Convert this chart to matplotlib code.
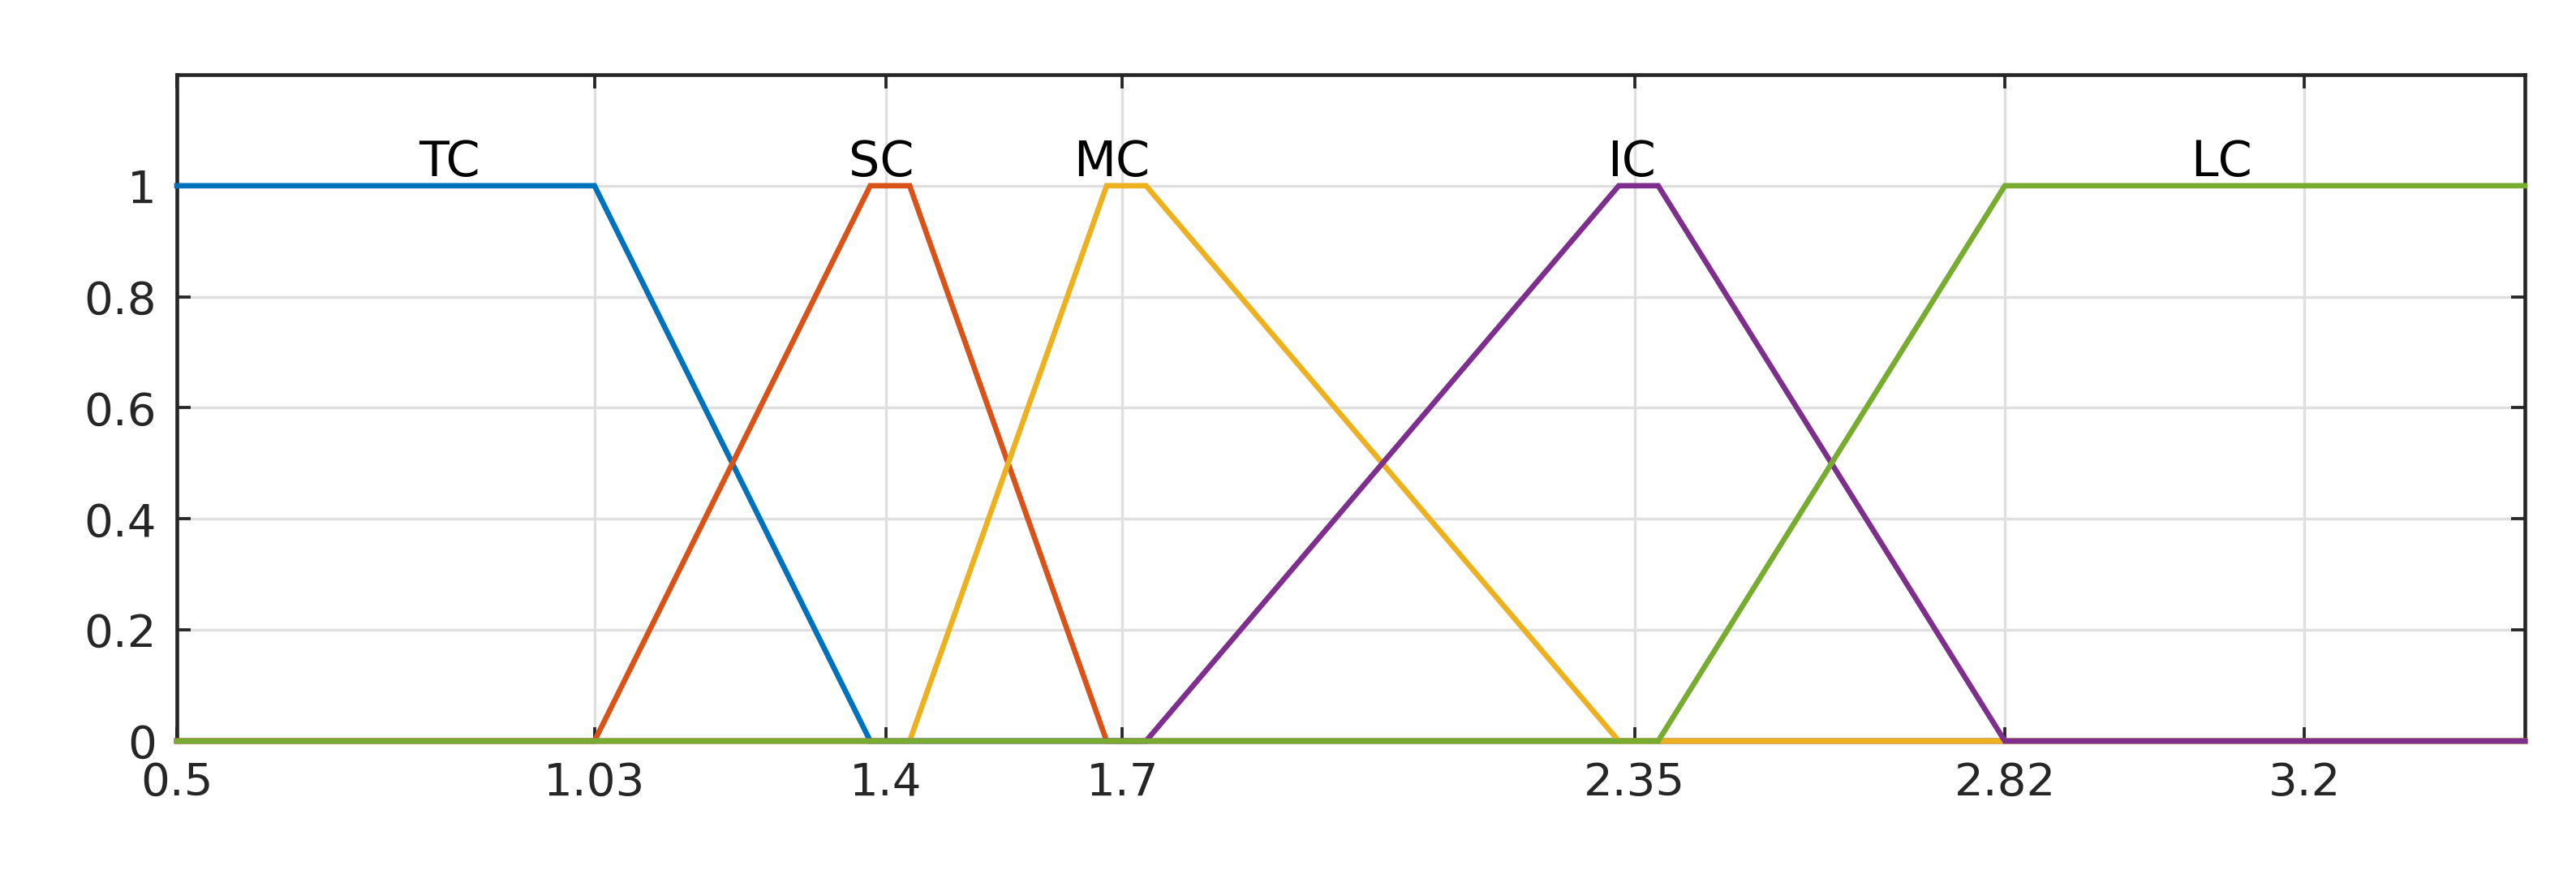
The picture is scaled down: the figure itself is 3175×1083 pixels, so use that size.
import matplotlib
matplotlib.use('Agg')
import matplotlib.pyplot as plt
import numpy as np

# membership function parameters [a, b, c, d] (trapezoid)
mf_names = ['TC', 'SC', 'MC', 'IC', 'LC']
mf_params = [
    [0.5, 0.5, 1.03, 1.38],
    [1.03, 1.38, 1.43, 1.68],
    [1.43, 1.68, 1.73, 2.33],
    [1.73, 2.33, 2.38, 2.82],
    [2.38, 2.82, 3.48, 3.48],
]
label_x = [0.846, 1.394, 1.686, 2.346, 3.095]
mf_colors = ['#0072BD', '#D95319', '#EDB120', '#7E2F8E', '#77AC30']

x_limits = [0.5, 3.48]
x_ticks = [0.5, 1.03, 1.4, 1.7, 2.35, 2.82, 3.2]
y_ticks = [0, 0.2, 0.4, 0.6, 0.8, 1]


def trapmf(x, p):
    a, b, c, d = p
    y = np.ones_like(x)
    if b > a:
        y = np.minimum(y, (x - a) / (b - a))
    else:
        y = np.where(x < a, 0.0, y)
    if d > c:
        y = np.minimum(y, (d - x) / (d - c))
    else:
        y = np.where(x > d, 0.0, y)
    return np.clip(y, 0, 1)


plt.rcParams['font.family'] = ['DejaVu Sans']

fig = plt.figure(figsize=(3175 / 300, 1083 / 300), dpi=300)
ax = fig.add_axes([218 / 3175, 1 - 913 / 1083, (3112 - 218) / 3175, (913 - 92) / 1083])

xs = np.unique(np.concatenate([np.ravel(mf_params), x_limits]))
xs = xs[(xs >= x_limits[0]) & (xs <= x_limits[1])]

for name, p, lx, col in zip(mf_names, mf_params, label_x, mf_colors):
    ax.plot(xs, trapmf(xs, p), color=col, lw=1.6, clip_on=False, zorder=3,
            solid_joinstyle='miter')
    ax.text(lx, 1.018, name, ha='center', va='baseline', fontsize=14.5, color='black')

ax.set_xlim(x_limits)
ax.set_ylim(0, 1.2)
ax.set_xticks(x_ticks)
ax.set_xticklabels([f'{t:g}' for t in x_ticks])
ax.set_yticks(y_ticks)
ax.set_yticklabels([f'{t:g}' for t in y_ticks])
ax.grid(True, color='#dfdfdf', lw=0.8)
ax.set_axisbelow(True)
ax.tick_params(direction='in', length=4, width=0.9, top=True, right=True,
               labelsize=13.5, colors='#262626', pad=6)
for s in ax.spines.values():
    s.set_color('#262626')
    s.set_linewidth(1.1)

fig.savefig('out.png', dpi=300)
